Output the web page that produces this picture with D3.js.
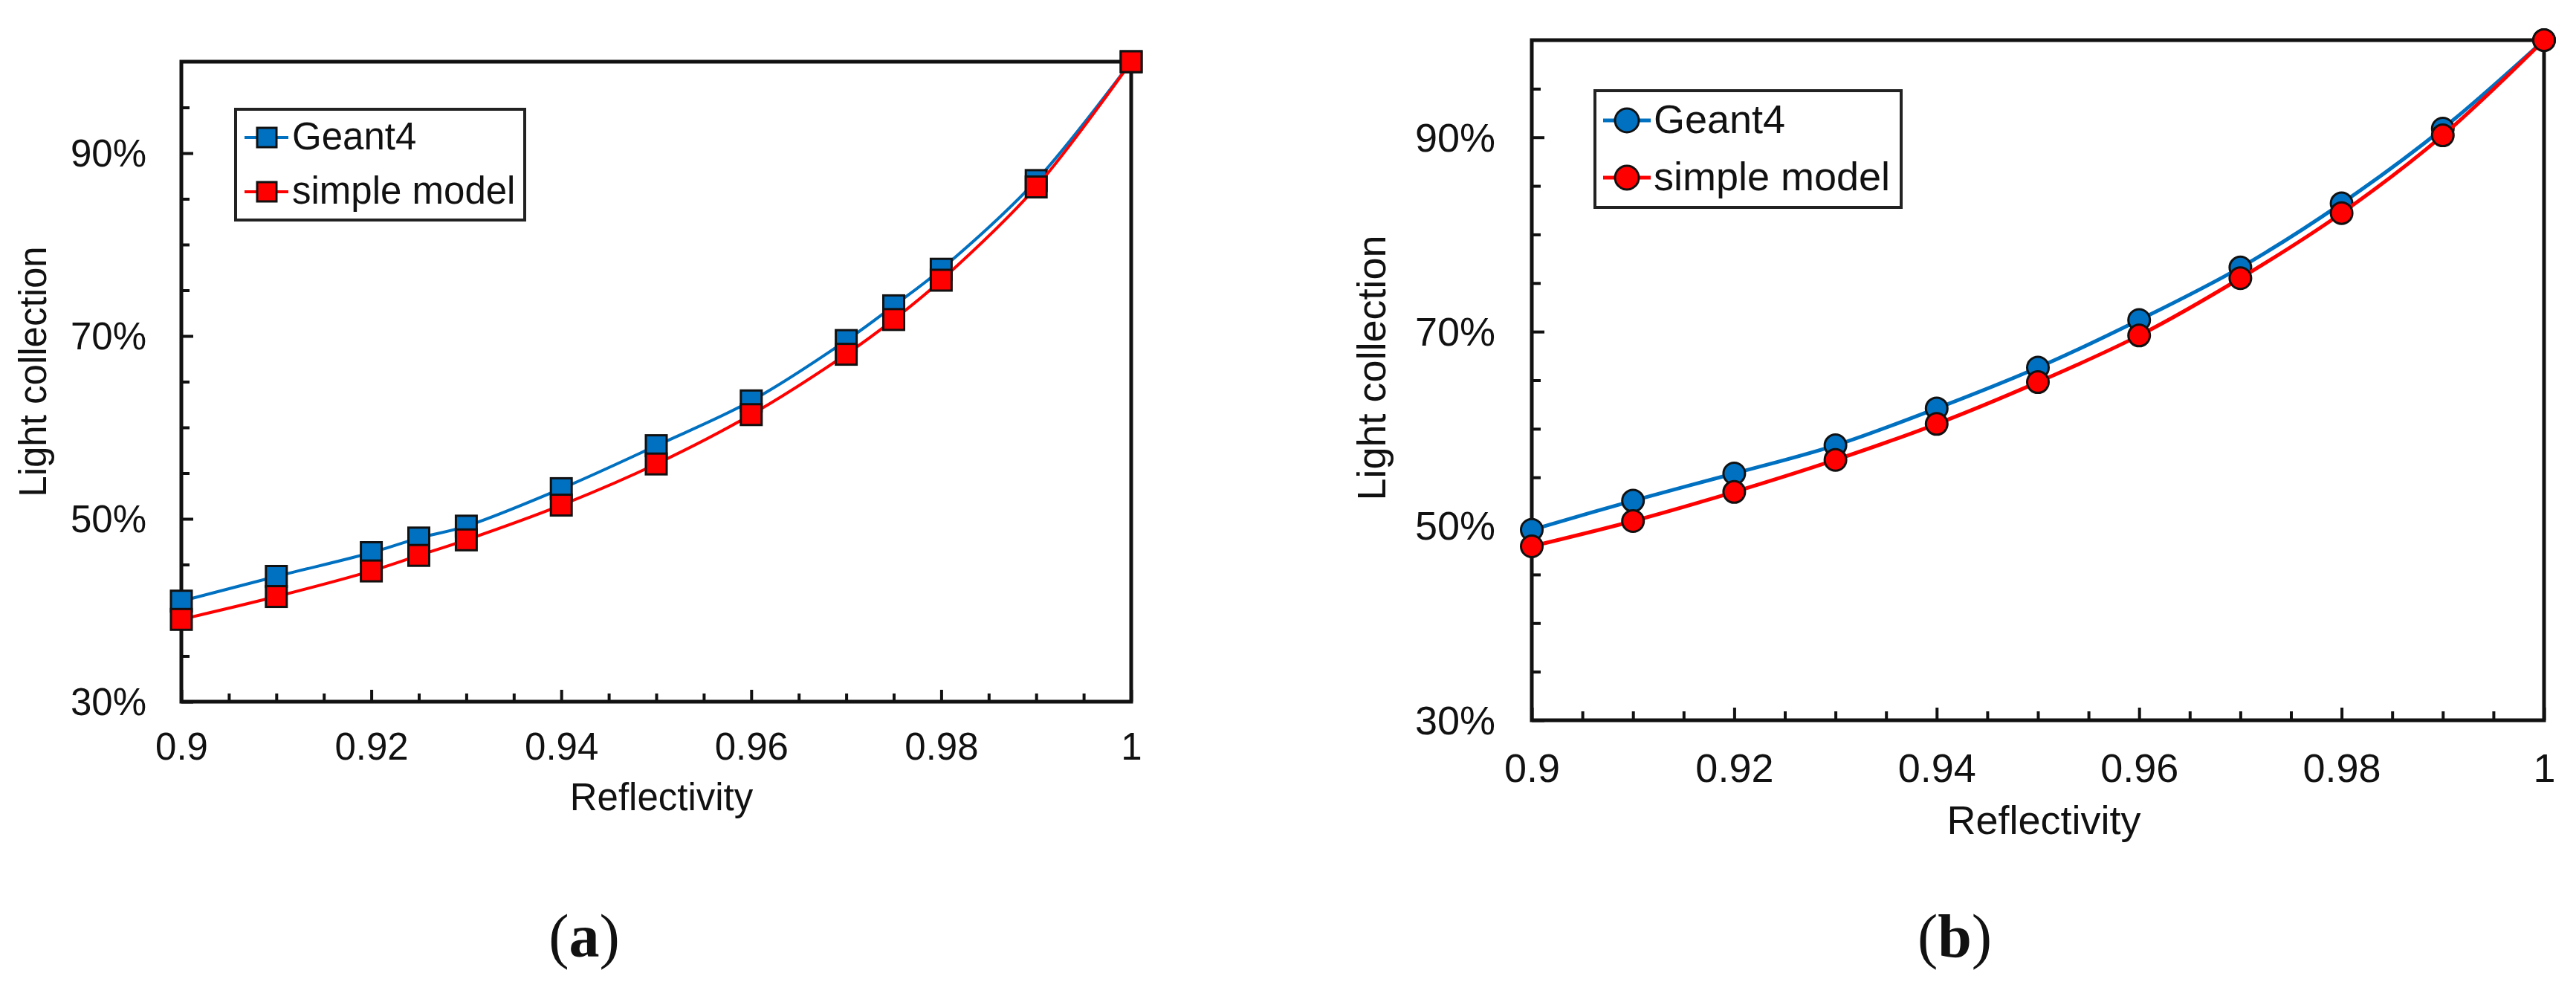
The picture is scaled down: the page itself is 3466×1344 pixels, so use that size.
<!DOCTYPE html>
<html>
<head>
<meta charset="utf-8">
<script src="https://cdn.jsdelivr.net/npm/d3@7"></script>
<style>
  html, body { margin: 0; padding: 0; background: #ffffff; }
  svg { display: block; }
  text { font-family: "Liberation Sans", Arial, Helvetica, sans-serif; fill: #111; }
</style>
</head>
<body>
<svg id="chart" width="3466" height="1344"></svg>
<script>
// ---------- DATA ----------
// Panel (a)
const reflectA = [0.9, 0.91, 0.92, 0.925, 0.93, 0.94, 0.95, 0.96, 0.97, 0.975, 0.98, 0.99, 1.0];
const geantA   = [41.0, 43.7, 46.3, 47.9, 49.2, 53.3, 58.0, 62.9, 69.5, 73.3, 77.3, 87.0, 100.0];
const simpleA  = [39.0, 41.5, 44.3, 46.0, 47.7, 51.5, 56.0, 61.4, 68.0, 71.8, 76.1, 86.3, 100.0];
// Panel (b)
const reflectB = [0.9, 0.91, 0.92, 0.93, 0.94, 0.95, 0.96, 0.97, 0.98, 0.99, 1.0];
const geantB   = [49.6, 52.6, 55.4, 58.3, 62.1, 66.3, 71.2, 76.6, 83.2, 90.9, 100.0];
const simpleB  = [47.9, 50.5, 53.5, 56.8, 60.5, 64.8, 69.6, 75.5, 82.2, 90.2, 100.0];
// Ticks / labels
const xTickLabels = [0.9, 0.92, 0.94, 0.96, 0.98, 1];
const yTickLabels = [30, 50, 70, 90];
const seriesNames = ["Geant4", "simple model"];
const panelLabels = ["a", "b"];
const xTitle = "Reflectivity";
const yTitle = "Light collection";

const BLUE = "#0070C0", RED = "#FF0000";
const svg = d3.select("#chart");

function panel(cfg) {
  const x = d3.scaleLinear().domain([0.9, 1.0]).range([cfg.left, cfg.right]);
  const y = d3.scaleLinear().domain([30, 100]).range([cfg.bottom, cfg.top]);
  const g = svg.append("g");
  const fs = cfg.fs;

  // minor ticks
  const xMinor = d3.range(0, 21).map(i => 0.9 + i * 0.005).filter(v => !xTickLabels.some(t => Math.abs(t - v) < 1e-9) && v < 0.9999);
  const yMinor = d3.range(30, 101, 5).filter(v => !yTickLabels.includes(v) && v < 100);

  g.append("g").attr("transform", `translate(0,${cfg.bottom})`)
    .call(d3.axisBottom(x).tickValues(xMinor).tickSize(-cfg.minor).tickFormat(""))
    .call(a => a.select(".domain").remove())
    .call(a => a.selectAll("line").attr("stroke", "#111").attr("stroke-width", 4));
  g.append("g").attr("transform", `translate(${cfg.left},0)`)
    .call(d3.axisLeft(y).tickValues(yMinor).tickSize(-cfg.minor).tickFormat(""))
    .call(a => a.select(".domain").remove())
    .call(a => a.selectAll("line").attr("stroke", "#111").attr("stroke-width", 4));

  // major ticks + labels
  g.append("g").attr("transform", `translate(0,${cfg.bottom})`)
    .call(d3.axisBottom(x).tickValues(xTickLabels).tickSize(-cfg.major).tickPadding(cfg.xPad)
      .tickFormat(d => d3.format("")(+d.toFixed(2))))
    .call(a => a.select(".domain").remove())
    .call(a => a.selectAll("line").attr("stroke", "#111").attr("stroke-width", 4))
    .call(a => a.selectAll("text").attr("font-size", fs).attr("font-family", null).style("fill", "#111"));
  g.append("g").attr("transform", `translate(${cfg.left},0)`)
    .call(d3.axisLeft(y).tickValues(yTickLabels).tickSize(-cfg.major).tickPadding(cfg.yPad)
      .tickFormat(d => d + "%"))
    .call(a => a.select(".domain").remove())
    .call(a => a.selectAll("line").attr("stroke", "#111").attr("stroke-width", 4))
    .call(a => a.selectAll("text").attr("font-size", fs).attr("font-family", null).attr("dy", "0.34em").style("fill", "#111"));

  // frame
  g.append("rect")
    .attr("x", cfg.left).attr("y", cfg.top)
    .attr("width", cfg.right - cfg.left).attr("height", cfg.bottom - cfg.top)
    .attr("fill", "none").attr("stroke", "#111").attr("stroke-width", 5);

  // series
  const line = d3.line().x(d => x(d[0])).y(d => y(d[1])).curve(d3.curveCatmullRom.alpha(0.5));
  const series = [
    { vals: cfg.geant, color: BLUE },
    { vals: cfg.simple, color: RED }
  ];
  series.forEach(s => {
    const pts = cfg.refl.map((r, i) => [r, s.vals[i]]);
    g.append("path").datum(pts).attr("d", line)
      .attr("fill", "none").attr("stroke", s.color).attr("stroke-width", cfg.lw);
    drawMarkers(g, pts.map(p => [x(p[0]), y(p[1])]), s.color, cfg);
  });

  // legend
  const L = cfg.legend;
  g.append("rect").attr("x", L.x0).attr("y", L.y0).attr("width", L.x1 - L.x0).attr("height", L.y1 - L.y0)
    .attr("fill", "#fff").attr("stroke", "#222").attr("stroke-width", 4);
  seriesNames.forEach((name, i) => {
    const ly = L.rows[i];
    const color = i === 0 ? BLUE : RED;
    g.append("line").attr("x1", L.lx0).attr("x2", L.lx1).attr("y1", ly).attr("y2", ly)
      .attr("stroke", color).attr("stroke-width", cfg.lw);
    drawMarkers(g, [[L.mx, ly]], color, cfg, true);
    g.append("text").attr("x", L.tx).attr("y", ly + L.base).attr("font-size", fs).text(name);
  });

  // axis titles
  g.append("text").attr("x", (cfg.left + cfg.right) / 2 + cfg.xtDx).attr("y", cfg.xtY)
    .attr("text-anchor", "middle").attr("font-size", fs).text(xTitle);
  g.append("text").attr("transform", `translate(${cfg.ytX},${cfg.ytY}) rotate(-90)`)
    .attr("text-anchor", "middle").attr("font-size", fs).text(yTitle);

  // panel label
  const pl = g.append("text").attr("x", cfg.plX).attr("y", 1287).attr("text-anchor", "middle")
    .style("font-family", '"Liberation Serif", "DejaVu Serif", serif').attr("font-size", 82);
  pl.append("tspan").text("(");
  pl.append("tspan").attr("font-weight", "bold").text(cfg.label);
  pl.append("tspan").text(")");
}

function drawMarkers(g, pts, color, cfg, legend) {
  if (cfg.shape === "square") {
    const s = legend ? 26 : 28;
    g.selectAll(null).data(pts).enter().append("rect")
      .attr("x", d => d[0] - s / 2).attr("y", d => d[1] - s / 2)
      .attr("width", s).attr("height", s)
      .attr("fill", color).attr("stroke", "#111").attr("stroke-width", 3);
  } else {
    const r = legend ? 16 : 14.5;
    g.selectAll(null).data(pts).enter().append("circle")
      .attr("cx", d => d[0]).attr("cy", d => d[1]).attr("r", r)
      .attr("fill", color).attr("stroke", "#111").attr("stroke-width", 3);
  }
}

panel({
  left: 244, right: 1522, top: 83, bottom: 944,
  fs: 51, xPad: 42, yPad: 47, major: 16, minor: 11, lw: 4,
  refl: reflectA, geant: geantA, simple: simpleA, shape: "square",
  legend: { x0: 317, x1: 706, y0: 147, y1: 296, rows: [185, 258], lx0: 329, lx1: 388, mx: 359, tx: 393, base: 16 },
  xtDx: 7, xtY: 1090, ytX: 62, ytY: 500, plX: 786, label: panelLabels[0]
});

panel({
  left: 2061, right: 3423, top: 54, bottom: 969,
  fs: 54, xPad: 45, yPad: 49, major: 17, minor: 12, lw: 5,
  refl: reflectB, geant: geantB, simple: simpleB, shape: "circle",
  legend: { x0: 2146, x1: 2558, y0: 122, y1: 279, rows: [162, 239], lx0: 2157, lx1: 2221, mx: 2189, tx: 2225, base: 17 },
  xtDx: 8, xtY: 1122, ytX: 1864, ytY: 495, plX: 2630, label: panelLabels[1]
});
</script>
</body>
</html>
